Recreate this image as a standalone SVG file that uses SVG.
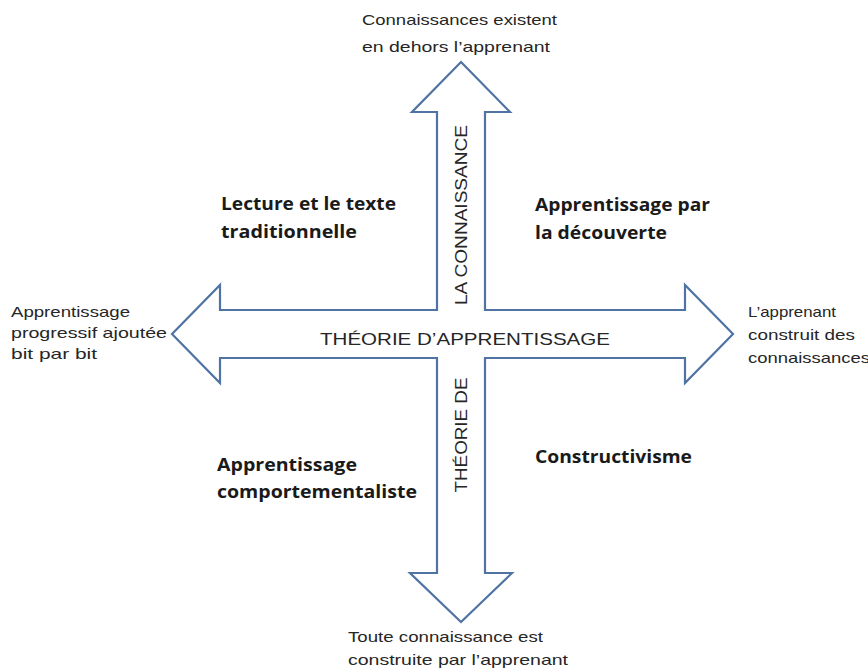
<svg xmlns="http://www.w3.org/2000/svg" width="868" height="671" viewBox="0 0 868 671">
  <style>
    .cross { fill: #ffffff; stroke: #4f73a3; stroke-width: 2.2; stroke-linejoin: miter; }
    .note { font-family: "Liberation Sans", Arial, sans-serif; font-size: 15px; fill: #262626; }
    .quad { font-family: "Open Sans", "Liberation Sans", sans-serif; font-size: 17px; font-weight: bold; fill: #1a1a1a; }
    .axis { font-family: "Liberation Sans", Arial, sans-serif; font-size: 17px; fill: #262626; text-anchor: middle; }
  </style>
  <rect width="868" height="671" fill="#ffffff"/>

  <!-- four-way arrow -->
  <g id="connectors">
    <polygon class="cross" points="461,62 510,112 485,112 485,310 685,310 685,285 733,334 685,383 685,358 485,358 485,573 512,573 461,622 410,573 437,573 437,358 220,358 220,383 172,334 220,285 220,310 437,310 437,112 412,112"/>
  </g>

  <!-- axis labels -->
  <g id="axis-horizontal">
    <text class="axis" x="465" y="345" textLength="290" lengthAdjust="spacingAndGlyphs">THÉORIE D’APPRENTISSAGE</text>
  </g>
  <g id="axis-vertical-top">
    <text class="axis" transform="translate(467,215) rotate(-90)" textLength="180" lengthAdjust="spacingAndGlyphs">LA CONNAISSANCE</text>
  </g>
  <g id="axis-vertical-bottom">
    <text class="axis" transform="translate(467,435) rotate(-90)" textLength="115" lengthAdjust="spacingAndGlyphs">THÉORIE DE</text>
  </g>

  <!-- arrow end notes -->
  <g id="top-note">
    <text class="note" x="362" y="25" textLength="195" lengthAdjust="spacingAndGlyphs">Connaissances existent</text>
    <text class="note" x="362" y="52" textLength="188" lengthAdjust="spacingAndGlyphs">en dehors l’apprenant</text>
  </g>
  <g id="left-note">
    <text class="note" x="11" y="317" textLength="119" lengthAdjust="spacingAndGlyphs">Apprentissage</text>
    <text class="note" x="11" y="338" textLength="156" lengthAdjust="spacingAndGlyphs">progressif ajoutée</text>
    <text class="note" x="11" y="359" textLength="86" lengthAdjust="spacingAndGlyphs">bit par bit</text>
  </g>
  <g id="right-note">
    <text class="note" x="748" y="317" textLength="88" lengthAdjust="spacingAndGlyphs">L’apprenant</text>
    <text class="note" x="748" y="340" textLength="107" lengthAdjust="spacingAndGlyphs">construit des</text>
    <text class="note" x="748" y="363" textLength="122" lengthAdjust="spacingAndGlyphs">connaissances</text>
  </g>
  <g id="bottom-note">
    <text class="note" x="348" y="642" textLength="195" lengthAdjust="spacingAndGlyphs">Toute connaissance est</text>
    <text class="note" x="348" y="665" textLength="220" lengthAdjust="spacingAndGlyphs">construite par l’apprenant</text>
  </g>

  <!-- quadrant labels -->
  <g id="quad-top-left">
    <text class="quad" x="221" y="210" textLength="175" lengthAdjust="spacingAndGlyphs">Lecture et le texte</text>
    <text class="quad" x="221" y="238" textLength="136" lengthAdjust="spacingAndGlyphs">traditionnelle</text>
  </g>
  <g id="quad-top-right">
    <text class="quad" x="535" y="211" textLength="175" lengthAdjust="spacingAndGlyphs">Apprentissage par</text>
    <text class="quad" x="535" y="239" textLength="132" lengthAdjust="spacingAndGlyphs">la découverte</text>
  </g>
  <g id="quad-bottom-left">
    <text class="quad" x="217" y="471" textLength="140" lengthAdjust="spacingAndGlyphs">Apprentissage</text>
    <text class="quad" x="217" y="498" textLength="200" lengthAdjust="spacingAndGlyphs">comportementaliste</text>
  </g>
  <g id="quad-bottom-right">
    <text class="quad" x="535" y="463" textLength="157" lengthAdjust="spacingAndGlyphs">Constructivisme</text>
  </g>
</svg>
